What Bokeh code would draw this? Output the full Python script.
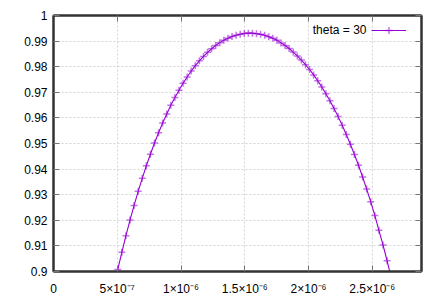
from bokeh.plotting import figure
from bokeh.models import (Range1d, FixedTicker, LinearAxis, Legend, LegendItem,
                          Label, CustomJSTickFormatter)
from bokeh.embed import file_html
from bokeh.resources import INLINE

# ---- data ----
x_um = [0.472, 0.504, 0.536, 0.568, 0.600, 0.632, 0.664, 0.696, 0.728, 0.760,
        0.792, 0.824, 0.856, 0.888, 0.920, 0.952, 0.984, 1.016, 1.048, 1.080,
        1.112, 1.144, 1.176, 1.208, 1.240, 1.272, 1.304, 1.336, 1.368, 1.400,
        1.432, 1.464, 1.496, 1.528, 1.560, 1.592, 1.624, 1.656, 1.688, 1.720,
        1.752, 1.784, 1.816, 1.848, 1.880, 1.912, 1.944, 1.976, 2.008, 2.040,
        2.072, 2.104, 2.136, 2.168, 2.200, 2.232, 2.264, 2.296, 2.328, 2.360,
        2.392, 2.424, 2.456, 2.488, 2.520, 2.552, 2.584, 2.616, 2.648]
theta30 = [0.8936, 0.9008, 0.9075, 0.9140, 0.9201, 0.9258, 0.9313, 0.9364, 0.9413, 0.9458,
           0.9502, 0.9542, 0.9580, 0.9615, 0.9649, 0.9680, 0.9708, 0.9735, 0.9760, 0.9783,
           0.9804, 0.9823, 0.9840, 0.9856, 0.9870, 0.9883, 0.9894, 0.9903, 0.9911, 0.9918,
           0.9923, 0.9927, 0.9930, 0.9931, 0.9931, 0.9929, 0.9927, 0.9923, 0.9917, 0.9911,
           0.9903, 0.9893, 0.9883, 0.9871, 0.9857, 0.9842, 0.9826, 0.9808, 0.9789, 0.9768,
           0.9745, 0.9721, 0.9694, 0.9667, 0.9637, 0.9605, 0.9571, 0.9535, 0.9497, 0.9457,
           0.9415, 0.9369, 0.9322, 0.9272, 0.9219, 0.9161, 0.9104, 0.9042, 0.8977]
series_label = "theta = 30"

x_ticks = [0, 5e-7, 1e-6, 1.5e-6, 2e-6, 2.5e-6]
x_tick_labels = ["0", "5×10⁻⁷", "1×10⁻⁶", "1.5×10⁻⁶", "2×10⁻⁶", "2.5×10⁻⁶"]
y_ticks = [0.9, 0.91, 0.92, 0.93, 0.94, 0.95, 0.96, 0.97, 0.98, 0.99, 1.0]
y_tick_labels = ["0.9", "0.91", "0.92", "0.93", "0.94", "0.95", "0.96", "0.97",
                 "0.98", "0.99", "1"]

x_vals = [v * 1e-6 for v in x_um]

FONT = "Liberation Sans"
VIOLET = "#9400d3"

p = figure(frame_width=368, frame_height=256, output_backend="svg",
           toolbar_location=None,
           x_range=Range1d(0, 2.886e-6), y_range=Range1d(0.9, 1.0),
           x_axis_location=None, y_axis_location=None,
           min_border_left=53, min_border_right=21, min_border_top=15,
           min_border_bottom=31)
p.background_fill_color = "white"
p.border_fill_color = "white"
p.outline_line_color = "#333333"
p.outline_line_width = 2


def style(ax, ticks, labels, show):
    ax.ticker = FixedTicker(ticks=ticks)
    ax.major_tick_in = 6
    ax.major_tick_out = 0
    ax.minor_tick_in = 0
    ax.minor_tick_out = 0
    ax.axis_line_color = "#333333"
    ax.axis_line_width = 2
    ax.major_tick_line_color = "#777777"
    ax.major_tick_line_width = 1
    ax.major_label_text_font = FONT
    ax.major_label_text_color = "black"
    if show:
        ax.major_label_text_font_size = "12px"
        ax.major_label_overrides = {t: l for t, l in zip(ticks, labels)}
    else:
        ax.major_label_text_font_size = "0px"
        ax.major_label_standoff = 0
        ax.formatter = CustomJSTickFormatter(code="return ''")


xb = LinearAxis()
style(xb, x_ticks, x_tick_labels, True)
xb.major_label_standoff = 10
p.add_layout(xb, "below")

yl = LinearAxis()
style(yl, y_ticks, y_tick_labels, True)
yl.major_label_standoff = 6
p.add_layout(yl, "left")

xt = LinearAxis()
style(xt, x_ticks, x_tick_labels, False)
p.add_layout(xt, "above")

yr = LinearAxis()
style(yr, y_ticks, y_tick_labels, False)
p.add_layout(yr, "right")

for g, t in ((p.xgrid, x_ticks), (p.ygrid, y_ticks)):
    g.ticker = FixedTicker(ticks=t)
    g.grid_line_color = "#d4d4d4"
    g.grid_line_dash = "2 2"
    g.grid_line_width = 1

line_r = p.line(x_vals, theta30, line_color=VIOLET, line_width=1.1)
mark_r = p.scatter(x_vals, theta30, marker="cross", size=7, line_color=VIOLET,
                   line_alpha=0.55, line_width=1.5)

legend = Legend(items=[LegendItem(label=" ", renderers=[line_r, mark_r])],
                location=(318, 232), orientation="vertical",
                padding=0, margin=0, spacing=0, label_standoff=0,
                glyph_width=35, glyph_height=18, label_height=18, label_width=0,
                border_line_alpha=0, background_fill_alpha=0,
                label_text_font=FONT, label_text_font_size="12px")
p.add_layout(legend, "center")

p.add_layout(Label(x=313, y=241.7, x_units="screen", y_units="screen",
                   text=series_label, text_align="right", text_baseline="middle",
                   text_font=FONT, text_font_size="12px", text_color="black"))

open("out.html", "w").write(file_html(p, INLINE))
